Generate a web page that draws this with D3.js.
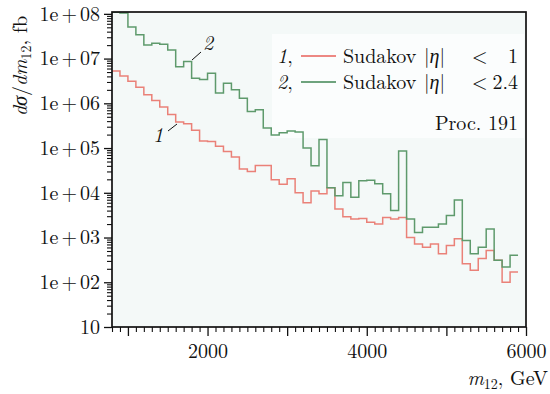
<!DOCTYPE html>
<html><head><meta charset="utf-8">
<script src="https://cdn.jsdelivr.net/npm/d3@7"></script>
<style>
body{margin:0;background:#fff}
svg{display:block}
</style>
</head><body>
<svg id="c" width="550" height="394"></svg>
<script>
// ---- data ----
const binLowEdges = d3.range(800, 5900, 100);      // 100 GeV bins, 800..5900
const binWidth = 100;
const sudakovEta1 = [5.3e6, 4.1e6, 3.1e6, 2.3e6, 1.56e6, 1.15e6, 8.3e5, 5.6e5, 3.8e5, 3.5e5,
  2.5e5, 1.43e5, 1.4e5, 1.1e5, 8.4e4, 6.3e4, 3.4e4, 3.0e4, 4.1e4, 4.1e4,
  1.95e4, 1.56e4, 2.05e4, 1.0e4, 6.0e3, 1.1e4, 9.5e3, 1.3e4, 4.35e3, 2.9e3,
  2.6e3, 2.65e3, 2.2e3, 2.0e3, 2.8e3, 2.6e3, 2.8e3, 1.0e3, 720, 610,
  720, 435, 665, 935, 260, 185, 340, 515, 310, 100, 170];
const sudakovEta24 = [1.08e8, 1.05e8, 5.1e7, 3.4e7, 2.0e7, 2.2e7, 2.1e7, 1.55e7, 6.6e6, 8.6e6,
  3.65e6, 3.4e6, 4.7e6, 1.7e6, 2.8e6, 2.0e6, 1.3e6, 6.6e5, 7.2e5, 2.8e5,
  1.95e5, 2.2e5, 2.4e5, 2.3e5, 1.0e5, 4.0e4, 1.56e5, 1.3e4, 8.6e3, 1.7e4,
  7.9e3, 1.85e4, 1.9e4, 1.6e4, 9.5e3, 4.0e3, 8.6e4, 2.6e3, 1.3e3, 1.7e3,
  1.7e3, 2.0e3, 3.1e3, 6.9e3, 860, 435, 610, 1.56e3, 310, 220, 400];
const yTickValues = [10, 1e2, 1e3, 1e4, 1e5, 1e6, 1e7, 1e8];
const yTickLabels = ["10", "1e+02", "1e+03", "1e+04", "1e+05", "1e+06", "1e+07", "1e+08"];
const xMajorTicks = [1000, 2000, 3000, 4000, 5000, 6000];
const xTickLabels = [2000, 4000, 6000];
const seriesNames = ["Sudakov", "Sudakov"];
const seriesTags = ["1", "2"];
const seriesLimits = ["1", "2.4"];
const procLabel = "Proc. 191";

// ---- layout ----
const FONT = '"Latin Modern Roman", "Liberation Serif", serif';
const L = 112, R = 526, T = 12, B = 327;
const svg = d3.select("#c").attr("font-family", FONT);
const x = d3.scaleLinear().domain([800, 6000]).range([L, R]);
const y = d3.scaleLog().domain([10, 1.1e8]).range([B, T]);

svg.append("defs").append("clipPath").attr("id", "clip")
  .append("rect").attr("x", L).attr("y", T).attr("width", R - L).attr("height", B - T);

svg.append("rect").attr("x", L).attr("y", T).attr("width", R - L).attr("height", B - T)
  .attr("fill", "#f4f9f8");
svg.append("rect").attr("x", 272).attr("y", 34).attr("width", 252).attr("height", 104)
  .attr("fill", "#fbfdfd");

const colors = {red: "#ea8178", green: "#5e9a6c", redLeg: "#e8605a", greenLeg: "#3f8552"};

function stepPts(vals) {
  const pts = binLowEdges.map((e, i) => [e, vals[i]]);
  pts.push([binLowEdges[binLowEdges.length - 1] + binWidth, vals[vals.length - 1]]);
  return pts;
}
const line = d3.line().x(d => x(d[0])).y(d => y(d[1])).curve(d3.curveStepAfter);
const g = svg.append("g").attr("clip-path", "url(#clip)");
g.append("path").attr("d", line(stepPts(sudakovEta1))).attr("fill", "none")
  .attr("stroke", colors.red).attr("stroke-width", 1.5);
g.append("path").attr("d", line(stepPts(sudakovEta24))).attr("fill", "none")
  .attr("stroke", colors.green).attr("stroke-width", 1.5);

// ---- axes ----
const fs = 20;
const ya = svg.append("g").attr("transform", `translate(${L},0)`)
  .call(d3.axisLeft(y).tickValues(yTickValues).tickFormat((d, i) => yTickLabels[i]).tickSize(8).tickPadding(4));
ya.attr("font-family", FONT).attr("font-size", fs);
ya.select(".domain").remove();
ya.selectAll("text").attr("fill", "#111").each(function () {
  const t = d3.select(this), s = t.text();
  if (s.includes("+")) {
    const [a, b] = s.split("+");
    t.text(null);
    t.append("tspan").text(a);
    t.append("tspan").attr("dx", 3).text("+");
    t.append("tspan").attr("dx", 3).text(b);
  }
});
ya.selectAll("line").attr("stroke", "#111").attr("stroke-width", 1.3);

const yMinor = [];
for (let p = 1; p < 8; p++) for (let k = 2; k <= 9; k++) yMinor.push(k * Math.pow(10, p));
const ym = svg.append("g").attr("transform", `translate(${L},0)`)
  .call(d3.axisLeft(y).tickValues(yMinor).tickFormat("").tickSize(5));
ym.select(".domain").remove();
ym.selectAll("line").attr("stroke", "#111").attr("stroke-width", 1.1);

const xa = svg.append("g").attr("transform", `translate(0,${B})`)
  .call(d3.axisBottom(x).tickValues(xMajorTicks).tickFormat(d => xTickLabels.includes(d) ? d : "").tickSize(9).tickPadding(8));
xa.attr("font-family", FONT).attr("font-size", fs);
xa.select(".domain").remove();
xa.selectAll("text").attr("fill", "#111");
xa.selectAll("line").attr("stroke", "#111").attr("stroke-width", 1.3);

const xm = svg.append("g").attr("transform", `translate(0,${B})`)
  .call(d3.axisBottom(x).tickValues(d3.range(800, 6001, 100).filter(v => v % 1000 !== 0)).tickFormat("").tickSize(5));
xm.select(".domain").remove();
xm.selectAll("line").attr("stroke", "#111").attr("stroke-width", 1.1);

// frame
svg.append("rect").attr("x", L).attr("y", T).attr("width", R - L).attr("height", B - T)
  .attr("fill", "none").attr("stroke", "#111").attr("stroke-width", 1.7);

// ---- titles ----
const yt = svg.append("text").attr("transform", "translate(27,66) rotate(-90)")
  .attr("text-anchor", "middle").attr("font-size", fs).attr("fill", "#111");
yt.append("tspan").attr("font-style", "italic").text("dσ");
yt.append("tspan").text("/");
yt.append("tspan").attr("font-style", "italic").text("dm");
yt.append("tspan").attr("font-size", 14).attr("dy", 4).text("12");
yt.append("tspan").attr("dy", -4).text(", fb");

const xt = svg.append("text").attr("x", 548).attr("y", 385).attr("text-anchor", "end").attr("font-size", fs).attr("fill", "#111");
xt.append("tspan").attr("font-style", "italic").text("m");
xt.append("tspan").attr("font-size", 14).attr("dy", 4).text("12");
xt.append("tspan").attr("dy", -4).text(", GeV");

// ---- legend ----
const legRows = [{y: 56, c: colors.redLeg}, {y: 82, c: colors.greenLeg}];
legRows.forEach((r, i) => {
  const tag = svg.append("text").attr("x", 277).attr("y", r.y + 7).attr("font-size", fs).attr("fill", "#111");
  tag.append("tspan").attr("font-style", "italic").text(seriesTags[i]);
  tag.append("tspan").text(",");
  svg.append("line").attr("x1", 301).attr("x2", 336).attr("y1", r.y).attr("y2", r.y)
    .attr("stroke", r.c).attr("stroke-width", 1.5);
  const lab = svg.append("text").attr("x", 343).attr("y", r.y + 7).attr("font-size", fs).attr("fill", "#111");
  lab.append("tspan").text(seriesNames[i]);
  lab.append("tspan").attr("x", 424).text("|");
  lab.append("tspan").attr("font-style", "italic").text("η");
  lab.append("tspan").text("|");
  lab.append("tspan").attr("x", 472).text("<");
  lab.append("tspan").attr("x", 518).attr("text-anchor", "end").text(seriesLimits[i]);
});
svg.append("text").attr("x", 518).attr("y", 130).attr("text-anchor", "end").attr("font-size", fs).attr("fill", "#111").text(procLabel);

// ---- curve annotations ----
svg.append("text").attr("x", 208).attr("y", 50).attr("text-anchor", "middle").attr("font-style", "italic").attr("font-size", fs).attr("fill", "#111").text(seriesTags[1]);
svg.append("line").attr("x1", 192).attr("y1", 60).attr("x2", 201).attr("y2", 52).attr("stroke", "#111").attr("stroke-width", 1);
svg.append("text").attr("x", 158).attr("y", 142).attr("text-anchor", "middle").attr("font-style", "italic").attr("font-size", fs).attr("fill", "#111").text(seriesTags[0]);
svg.append("line").attr("x1", 168).attr("y1", 131).attr("x2", 177).attr("y2", 124).attr("stroke", "#111").attr("stroke-width", 1);
</script>
</body></html>
